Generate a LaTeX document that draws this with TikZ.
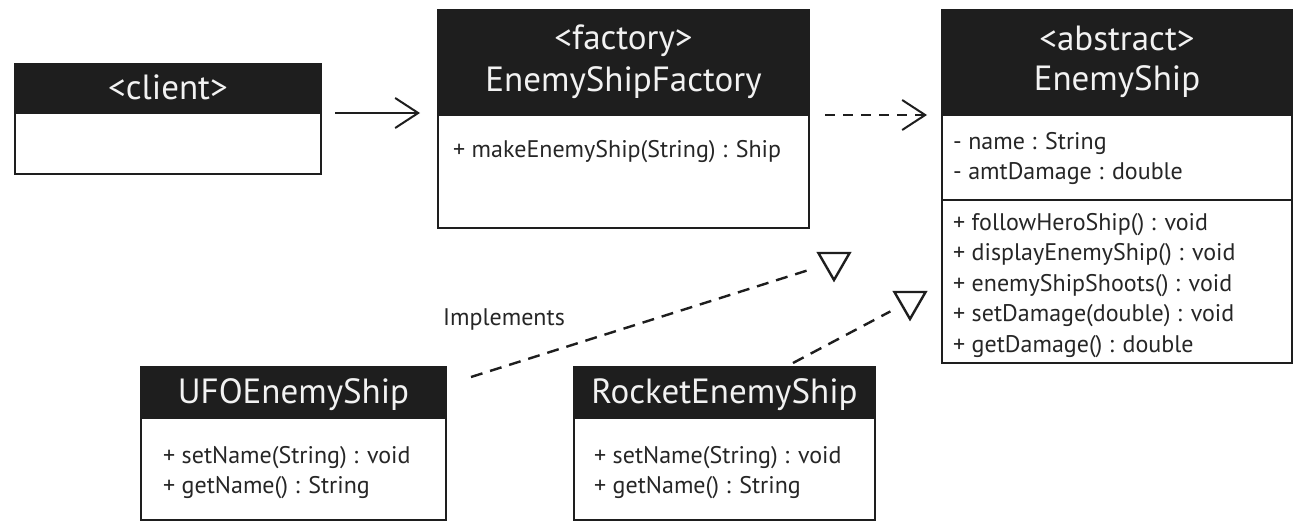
\documentclass[tikz,border=0pt]{standalone}
\usepackage{fontspec}
\setmainfont{PT Sans}
\usetikzlibrary{arrows.meta,shapes.geometric}
\definecolor{ink}{HTML}{1E1E1E}
\definecolor{txt}{HTML}{262626}
\definecolor{hdtxt}{HTML}{F2F2F2}
\tikzset{
  hdr/.style={draw=ink, line width=2.4pt, fill=ink, inner sep=0pt, outer sep=0pt, anchor=north west},
  body/.style={draw=ink, line width=2.4pt, fill=white, inner sep=0pt, outer sep=0pt, anchor=north west},
  title/.style={text=hdtxt, font=\fontsize{35}{40}\selectfont, anchor=base, inner sep=0pt},
  member/.style={text=txt, font=\fontsize{24}{30}\selectfont, anchor=base west, inner sep=0pt},
  label/.style={text=txt, font=\fontsize{24}{30}\selectfont, anchor=base, inner sep=0pt},
  assoc/.style={draw=ink, line width=2pt, -{Straight Barb[length=23pt,width=30pt,line width=2pt]}},
  dep/.style={draw=ink, line width=2pt, dash pattern=on 10pt off 8pt, -{Straight Barb[length=23pt,width=30pt,line width=2pt]}},
  real/.style={draw=ink, line width=2.4pt, dash pattern=on 12pt off 8pt},
  tri/.style={regular polygon, regular polygon sides=3, shape border rotate=180, draw=ink, line width=2.4pt, fill=white, minimum size=36pt, inner sep=0pt},
}
\begin{document}
\begin{tikzpicture}[x=1pt,y=-1pt]
\useasboundingbox (0,0) rectangle (1294,524);
\fill[white] (0,0) rectangle (1294,524);

% client
\node[hdr, minimum width=306pt, minimum height=49pt] (clientH) at (15,64) {};
\node[body, minimum width=306pt, minimum height=61pt] (clientB) at (15,113) {};
\node[title] (clientT) at (168,100) {<client>};

% factory
\node[hdr, minimum width=371pt, minimum height=105pt] (factoryH) at (438,10) {};
\node[body, minimum width=371pt, minimum height=113pt] (factoryB) at (438,115) {};
\node[title] (factoryS) at (623.5,50) {<factory>};
\node[title] (factoryT) at (623.5,92) {EnemyShipFactory};
\node[member] (factoryM1) at (453,158) {+ makeEnemyShip(String) : Ship};

% abstract product
\node[hdr, minimum width=350pt, minimum height=105pt] (enemyH) at (942,10) {};
\node[body, minimum width=350pt, minimum height=85pt] (enemyA) at (942,115) {};
\node[body, minimum width=350pt, minimum height=163pt] (enemyM) at (942,200) {};
\node[title] (enemyS) at (1117,51) {<abstract>};
\node[title] (enemyT) at (1117,91) {EnemyShip};
\node[member] (enemyA1) at (953,150) {- name : String};
\node[member] (enemyA2) at (953,180) {- amtDamage : double};
\node[member] (enemyM1) at (953,230) {+ followHeroShip() : void};
\node[member] (enemyM2) at (953,260.5) {+ displayEnemyShip() : void};
\node[member] (enemyM3) at (953,291) {+ enemyShipShoots() : void};
\node[member] (enemyM4) at (953,321.5) {+ setDamage(double) : void};
\node[member] (enemyM5) at (953,352) {+ getDamage() : double};

% concrete products
\node[hdr, minimum width=305pt, minimum height=51pt] (ufoH) at (141,367) {};
\node[body, minimum width=305pt, minimum height=102pt] (ufoB) at (141,418) {};
\node[title] (ufoT) at (293.5,403) {UFOEnemyShip};
\node[member] (ufoM1) at (163,463) {+ setName(String) : void};
\node[member] (ufoM2) at (163,493) {+ getName() : String};

\node[hdr, minimum width=301pt, minimum height=51pt] (rocketH) at (574,367) {};
\node[body, minimum width=301pt, minimum height=102pt] (rocketB) at (574,418) {};
\node[title] (rocketT) at (724.5,403) {RocketEnemyShip};
\node[member] (rocketM1) at (594,463) {+ setName(String) : void};
\node[member] (rocketM2) at (594,493) {+ getName() : String};

% relations
\draw[assoc, shorten <=14pt, shorten >=18pt] (clientH.south east) -- (clientH.south east -| factoryH.west);
\draw[dep, shorten <=16pt, shorten >=15pt] (factoryH.south east) -- (factoryH.south east -| enemyH.west);

\node[tri] (triA) at (834,262) {};
\node[tri] (triB) at (910,301) {};
\coordinate (ufoTail) at (471,377);
\coordinate (rocketTail) at (793,363);
\draw[real, shorten >=12pt] (ufoTail) -- (triA);
\draw[real, shorten >=12pt] (rocketTail) -- (triB);
\node[label] (implLbl) at (504,325) {Implements};
\end{tikzpicture}
\end{document}
